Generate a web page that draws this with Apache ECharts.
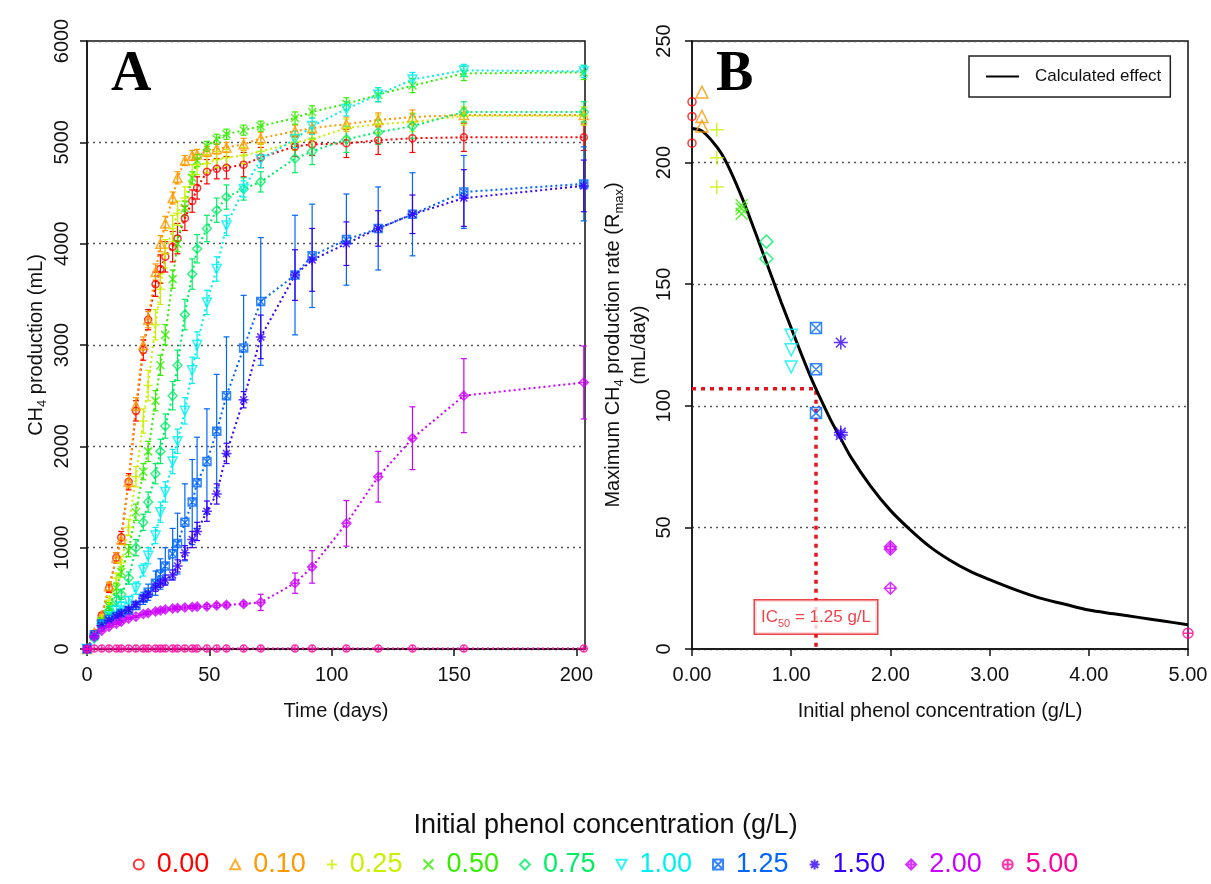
<!DOCTYPE html>
<html><head><meta charset="utf-8">
<script src="https://cdn.jsdelivr.net/npm/echarts@6/dist/echarts.min.js"></script>
<style>html,body{margin:0;padding:0;background:#fff}#c{width:1211px;height:884px}</style>
</head><body><div id="c"></div>
<script>
// ---------- DATA ----------
const concLabels = ['0.00','0.10','0.25','0.50','0.75','1.00','1.25','1.50','2.00','5.00'];
const concValues = [0, 0.1, 0.25, 0.5, 0.75, 1.0, 1.25, 1.5, 2.0, 5.0];
const colors = ['#FF0000','#FF9900','#C8F000','#33EE00','#00EE66','#00F0F0','#0066FF','#3300FF','#CC00FF','#FF0099'];

// Panel A: cumulative CH4 production (mL) vs time (days)
const days = [0,3,6,9,12,14,17,20,23,25,28,30,32,35,37,40,43,45,49,53,57,64,71,85,92,106,119,133,154,203];
const ch4_0_00 = [0,150,330,600,900,1100,1650,2350,2950,3250,3600,3750,3870,3970,4050,4250,4420,4550,4710,4740,4750,4780,4850,4960,4980,4990,5020,5040,5050,5050];
const ch4_0_10 = [0,160,330,620,900,1080,1650,2400,3000,3250,3720,4000,4200,4450,4650,4820,4870,4880,4910,4935,4950,4980,5040,5110,5140,5180,5220,5250,5270,5270];
const ch4_0_25 = [0,140,300,480,700,850,1200,1700,2250,2600,3200,3550,3900,4150,4300,4450,4680,4780,4790,4830,4850,4870,4910,5000,5030,5140,5180,5200,5260,5260];
const ch4_0_50 = [0,120,280,420,600,760,970,1350,1750,1950,2450,2800,3100,3650,4000,4350,4650,4820,4960,5030,5080,5120,5160,5240,5300,5380,5470,5560,5680,5690];
const ch4_0_75 = [0,110,250,380,480,540,700,1000,1250,1450,1730,1950,2200,2500,2800,3300,3700,3950,4150,4330,4460,4540,4610,4840,4910,5030,5100,5160,5300,5300];
const ch4_1_00 = [0,100,230,320,380,420,470,600,780,920,1120,1350,1550,1850,2050,2350,2750,3000,3420,3750,4180,4540,4830,5030,5160,5330,5470,5620,5710,5700];
const ch4_1_25 = [0,140,250,290,320,350,380,430,500,560,650,740,820,940,1040,1250,1450,1640,1850,2150,2500,2970,3430,3690,3880,4040,4150,4290,4510,4590];
const ch4_1_50 = [0,130,230,280,320,350,390,440,500,540,610,650,680,730,820,950,1080,1160,1360,1530,1930,2460,3080,3690,3840,4000,4150,4290,4450,4570];
const ch4_2_00 = [0,120,180,220,250,270,300,320,345,355,370,380,390,400,405,410,415,418,420,430,435,445,460,650,810,1240,1700,2080,2500,2630];
const ch4_5_00 = [0,5,5,5,5,5,5,5,5,5,5,5,5,5,5,5,5,5,5,5,5,5,5,5,5,5,5,5,5,5];

// Panel A: error bars (+/- mL)
const err_0_00 = [0,20,30,40,50,60,80,100,100,100,120,140,150,150,150,120,110,110,120,100,110,120,100,100,110,140,140,140,140,130];
const err_0_10 = [0,20,30,40,50,50,60,80,80,80,80,80,70,60,60,50,50,50,50,50,50,60,60,60,60,70,70,70,70,70];
const err_0_25 = [0,20,30,40,50,60,80,100,120,150,150,150,140,130,120,110,100,100,90,80,80,80,80,80,80,90,90,90,90,90];
const err_0_50 = [0,20,30,40,50,50,60,80,80,100,100,100,100,90,80,70,60,60,50,50,50,50,50,60,60,60,70,70,70,70];
const err_0_75 = [0,20,30,40,50,50,60,80,80,100,100,120,120,140,150,150,150,140,130,120,120,110,100,140,130,130,120,120,100,100];
const err_1_00 = [0,20,20,30,40,40,50,60,60,80,80,100,100,120,120,130,130,130,120,120,100,80,80,80,80,70,70,70,60,60];
const err_1_25 = [0,0,10,20,20,30,30,40,60,80,120,150,180,250,300,380,420,450,520,560,580,520,630,590,510,450,410,410,360,365];
const err_1_50 = [0,0,10,10,15,20,20,25,30,30,40,40,50,50,60,70,80,90,100,100,100,80,215,250,310,215,175,190,280,255];
const err_2_00 = [0,10,10,10,10,10,10,10,10,15,15,15,15,15,15,15,15,15,20,20,20,20,80,100,160,225,250,310,365,360];
const err_5_00 = [0,0,0,0,0,0,0,0,0,0,0,0,0,0,0,0,0,0,0,0,0,0,0,0,0,0,0,0,0,0];

// Panel B: maximum CH4 production rate (mL/day) per replicate
const rmax_0_00 = [225, 219, 208];
const rmax_0_10 = [229, 219, 215];
const rmax_0_25 = [213.5, 202, 190];
const rmax_0_50 = [182.5, 181, 179];
const rmax_0_75 = [167.5, 160.5];
const rmax_1_00 = [129, 123, 116];
const rmax_1_25 = [132, 115, 97];
const rmax_1_50 = [126, 89, 88];
const rmax_2_00 = [42, 41, 25];
const rmax_5_00 = [6.5];

// Panel B: calculated effect curve
const curveConc = [0,0.1,0.2,0.3,0.4,0.5,0.6,0.7,0.8,0.9,1.0,1.1,1.2,1.3,1.4,1.5,1.6,1.8,2.0,2.2,2.4,2.6,2.8,3.0,3.25,3.5,3.75,4.0,4.25,4.5,4.75,5.0];
const curveRate = [214,213,209,203.5,195.5,186,175.5,164.5,153.5,142.5,132,121.5,111.5,102.5,94,86.5,79,67,57,49,42,36.5,32,28.5,24.5,21,18.5,16,14.5,13,11.5,10];
const ic50Conc = 1.25;
const ic50Rate = 107;

// Tick labels
const timeTicks = [0, 50, 100, 150, 200];

// ---------- CHART ----------
const ch4Series = [ch4_0_00,ch4_0_10,ch4_0_25,ch4_0_50,ch4_0_75,ch4_1_00,ch4_1_25,ch4_1_50,ch4_2_00,ch4_5_00];
const errSeries = [err_0_00,err_0_10,err_0_25,err_0_50,err_0_75,err_1_00,err_1_25,err_1_50,err_2_00,err_5_00];
const rmaxSeries = [rmax_0_00,rmax_0_10,rmax_0_25,rmax_0_50,rmax_0_75,rmax_1_00,rmax_1_25,rmax_1_50,rmax_2_00,rmax_5_00];

const FONT = '"Liberation Sans", Arial, sans-serif';
const SYMBOLS = [
  'circle',
  'path://M10,1 L19,18 L1,18 Z',
  'path://M10,0 L10,20 M0,10 L20,10',
  'path://M2,2 L18,18 M18,2 L2,18',
  'path://M10,0 L20,10 L10,20 L0,10 Z',
  'path://M1,2 L19,2 L10,19 Z',
  'path://M2,2 L18,2 L18,18 L2,18 Z M2,2 L18,18 M18,2 L2,18',
  'path://M10,0 L10,20 M0,10 L20,10 M3,3 L17,17 M17,3 L3,17',
  'path://M10,0 L20,10 L10,20 L0,10 Z M10,0 L10,20 M0,10 L20,10',
  'path://M0,10 A10,10 0 1,1 20,10 A10,10 0 1,1 0,10 Z M10,0 L10,20 M0,10 L20,10'
];
const sizeA = [7,9,9,8,9,9,8,10,9,7];
const sizeB = [8,12,14,12,13,12,11,14,12,10];

function errRender(color) {
  return function (params, api) {
    const x = api.value(0), y = api.value(1), e = api.value(2);
    if (!e) return null;
    const p1 = api.coord([x, y + e]), p2 = api.coord([x, y - e]);
    const w = 3;
    const st = { stroke: color, lineWidth: 1.2 };
    return { type: 'group', children: [
      { type: 'line', shape: { x1: p1[0], y1: p1[1], x2: p2[0], y2: p2[1] }, style: st },
      { type: 'line', shape: { x1: p1[0] - w, y1: p1[1], x2: p1[0] + w, y2: p1[1] }, style: st },
      { type: 'line', shape: { x1: p2[0] - w, y1: p2[1], x2: p2[0] + w, y2: p2[1] }, style: st }
    ]};
  };
}

const series = [];
// Panel B scatter first (legend icons come from these)
concLabels.forEach((name, i) => {
  series.push({
    type: 'scatter', name, xAxisIndex: 1, yAxisIndex: 1,
    symbol: SYMBOLS[i], symbolSize: sizeB[i],
    itemStyle: { color: 'rgba(0,0,0,0)', borderColor: colors[i], borderWidth: 1.5 },
    data: rmaxSeries[i].map(v => [concValues[i], v]), z: 6, silent: true
  });
});
// Panel A
concLabels.forEach((name, i) => {
  const pts = days.map((d, k) => [d, ch4Series[i][k]]);
  series.push({
    type: 'line', name, xAxisIndex: 0, yAxisIndex: 0, symbol: 'none',
    data: pts, lineStyle: { color: colors[i], width: 2, type: [2, 3] },
    itemStyle: { color: colors[i] }, z: 2, silent: true
  });
  series.push({
    type: 'custom', name, xAxisIndex: 0, yAxisIndex: 0, clip: false,
    data: days.map((d, k) => [d, ch4Series[i][k], errSeries[i][k]]),
    renderItem: errRender(colors[i]), z: 3, silent: true
  });
  series.push({
    type: 'scatter', name, xAxisIndex: 0, yAxisIndex: 0,
    symbol: SYMBOLS[i], symbolSize: sizeA[i],
    itemStyle: { color: 'rgba(0,0,0,0)', borderColor: colors[i], borderWidth: 1.5 },
    data: pts, z: 4, silent: true
  });
});
// Calculated effect curve
series.push({
  type: 'line', name: 'Calculated effect', xAxisIndex: 1, yAxisIndex: 1,
  symbol: 'none', smooth: 0.3, data: curveConc.map((c, k) => [c, curveRate[k]]),
  lineStyle: { color: '#000', width: 3 }, itemStyle: { color: '#000' }, z: 5, silent: true
});
// IC50 guide
series.push({
  type: 'line', name: 'IC50', xAxisIndex: 1, yAxisIndex: 1, symbol: 'none',
  data: [[0, ic50Rate], [ic50Conc, ic50Rate], [ic50Conc, 0]],
  lineStyle: { color: '#E8141C', width: 3.5, type: [4, 5] }, z: 4, silent: true
});
series.push({
  type: 'scatter', name: 'IC50label', xAxisIndex: 1, yAxisIndex: 1,
  symbolSize: 0, data: [[ic50Conc, 13.2]], z: 7, silent: true,
  label: {
    show: true, position: 'inside',
    formatter: '{a|IC}{s|50}{a| = ' + ic50Conc.toFixed(2) + ' g/L}',
    backgroundColor: '#fff', borderColor: '#E8141C', borderWidth: 1.5,
    padding: [5, 6, 4, 6],
    rich: {
      a: { fontSize: 17, fontFamily: FONT, color: '#E8141C', lineHeight: 24, verticalAlign: 'middle' },
      s: { fontSize: 11, fontFamily: FONT, color: '#E8141C', lineHeight: 11, verticalAlign: 'bottom' }
    }
  }
});

const tickLabel = { fontSize: 20, fontFamily: FONT, color: '#111' };
const axisLine = { show: true, lineStyle: { color: '#111', width: 1.5 } };
const axisTick = { show: true, length: 7, lineStyle: { color: '#111', width: 1.5 } };
const gridDots = { show: true, lineStyle: { color: '#555', type: [2, 4], width: 1.3 } };
const nameStyle = {
  fontSize: 20, fontFamily: FONT, color: '#111',
  rich: {
    a: { fontSize: 20, fontFamily: FONT, color: '#111', lineHeight: 26, verticalAlign: 'middle' },
    s: { fontSize: 13, fontFamily: FONT, color: '#111', lineHeight: 13, verticalAlign: 'bottom' }
  }
};

const option = {
  animation: false,
  backgroundColor: '#fff',
  grid: [
    { left: 87, top: 41, width: 498, height: 608, show: true, borderColor: '#111', borderWidth: 1.5, backgroundColor: 'rgba(0,0,0,0)' },
    { left: 692, top: 41, width: 496, height: 608, show: true, borderColor: '#111', borderWidth: 1.5, backgroundColor: 'rgba(0,0,0,0)' }
  ],
  xAxis: [
    { type: 'value', gridIndex: 0, min: 0, max: 203.5, interval: 50,
      axisLine, axisTick: Object.assign({ customValues: timeTicks }, axisTick),
      axisLabel: Object.assign({ customValues: timeTicks, margin: 16 }, tickLabel),
      splitLine: { show: false },
      name: 'Time (days)', nameLocation: 'middle', nameGap: 52, nameTextStyle: nameStyle },
    { type: 'value', gridIndex: 1, min: 0, max: 5, interval: 1,
      axisLine, axisTick,
      axisLabel: Object.assign({ margin: 16, formatter: v => v.toFixed(2) }, tickLabel),
      splitLine: { show: false },
      name: 'Initial phenol concentration (g/L)', nameLocation: 'middle', nameGap: 52, nameTextStyle: nameStyle }
  ],
  yAxis: [
    { type: 'value', gridIndex: 0, min: 0, max: 6000, interval: 1000,
      axisLine, axisTick,
      axisLabel: Object.assign({ rotate: 90, margin: 15, formatter: v => String(v) }, tickLabel),
      splitLine: gridDots,
      name: '{a|CH}{s|4}{a| production (mL)}', nameLocation: 'middle', nameRotate: 90, nameGap: 38,
      nameTextStyle: nameStyle },
    { type: 'value', gridIndex: 1, min: 0, max: 250, interval: 50,
      axisLine, axisTick,
      axisLabel: Object.assign({ rotate: 90, margin: 18, formatter: v => String(v) }, tickLabel),
      splitLine: gridDots,
      name: '{a|Maximum CH}{s|4}{a| production rate (R}{s|max}{a|)}\n{a|(mL/day)}',
      nameLocation: 'middle', nameRotate: 90, nameGap: 40,
      nameTextStyle: nameStyle }
  ],
  legend: [
    {
      data: concLabels.map((n, i) => ({ name: n, textStyle: { color: colors[i] } })),
      left: 'center', top: 846, orient: 'horizontal',
      itemWidth: 10, itemHeight: 10, itemGap: 20, selectedMode: false,
      textStyle: { fontSize: 27, fontFamily: FONT, padding: [0, 0, 0, 8] }
    },
    {
      data: [{ name: 'Calculated effect', icon: 'rect', itemStyle: { color: '#000' } }],
      left: 969, top: 56, orient: 'horizontal',
      itemWidth: 33, itemHeight: 2, selectedMode: false,
      borderColor: '#222', borderWidth: 1.5, padding: [12, 9, 12, 17],
      textStyle: { fontSize: 17, fontFamily: FONT, color: '#111', padding: [0, 0, 0, 11] }
    }
  ],
  graphic: [
    { type: 'text', left: 'center', top: 812, style: { text: 'Initial phenol concentration (g/L)', fontSize: 27, fontFamily: FONT, fill: '#111' } },
    { type: 'text', left: 111, top: 48, style: { text: 'A', fontSize: 56, fontWeight: 'bold', fontFamily: '"Liberation Serif", "Times New Roman", serif', fill: '#000' } },
    { type: 'text', left: 716, top: 48, style: { text: 'B', fontSize: 56, fontWeight: 'bold', fontFamily: '"Liberation Serif", "Times New Roman", serif', fill: '#000' } }
  ],
  series
};

const chart = echarts.init(document.getElementById('c'), null, { renderer: 'canvas' });
chart.setOption(option);
</script></body></html>
